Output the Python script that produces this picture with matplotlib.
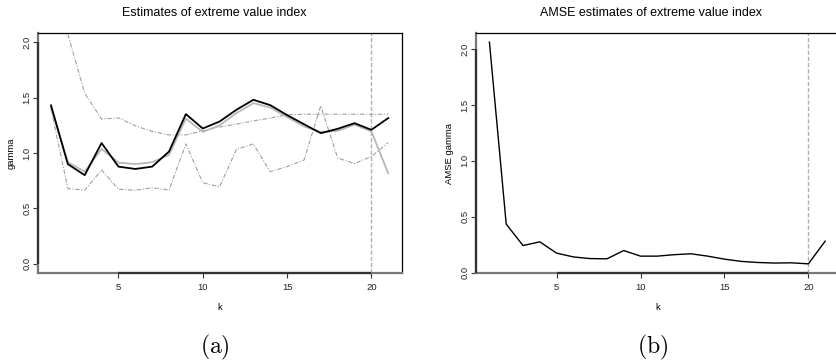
import numpy as np
import matplotlib
matplotlib.use("Agg")
import matplotlib.pyplot as plt

plt.rcParams['font.family'] = ['Liberation Sans', 'DejaVu Sans']
plt.rcParams['mathtext.fontset'] = 'cm'

# ---- data ----
k = np.arange(1, 22)
gamma_est = [1.43, 0.90, 0.80, 1.09, 0.877, 0.856, 0.877, 1.013, 1.351, 1.221, 1.284,
             1.39, 1.48, 1.432, 1.342, 1.26, 1.179, 1.218, 1.269, 1.209, 1.315]
gamma_est2 = [1.41, 0.917, 0.832, 1.037, 0.913, 0.90, 0.917, 0.983, 1.31, 1.19, 1.25,
              1.36, 1.45, 1.41, 1.325, 1.24, 1.19, 1.20, 1.255, 1.195, 0.817]
gamma_upper = [np.nan, 2.07, 1.54, 1.306, 1.317, 1.245, 1.195, 1.163, 1.163, 1.20, 1.235,
               1.26, 1.29, 1.315, 1.345, 1.35, 1.35, 1.35, 1.35, 1.35, 1.35]
gamma_lower = [1.40, 0.68, 0.664, 0.847, 0.673, 0.664, 0.687, 0.666, 1.082, 0.732, 0.696,
               1.034, 1.082, 0.832, 0.877, 0.935, 1.426, 0.955, 0.905, 0.968, 1.094]
amse = [2.064, 0.434, 0.242, 0.275, 0.174, 0.14, 0.125, 0.123, 0.197, 0.147, 0.147,
        0.16, 0.168, 0.147, 0.12, 0.10, 0.09, 0.085, 0.087, 0.078, 0.281]
k_opt = 20
xticks = [5, 10, 15, 20]
yticks = [0.0, 0.5, 1.0, 1.5, 2.0]

W, H = 836, 362
fig = plt.figure(figsize=(W / 100, H / 100), dpi=100)

def fx(px):
    return px / W

def fy(py):
    return 1 - py / H

top_px, bot_px = 33.3, 272.7
axL = fig.add_axes([fx(37.5), fy(bot_px), fx(401.7 - 37.5), (bot_px - top_px) / H])
axR = fig.add_axes([fx(476.0), fy(bot_px), fx(838.6 - 476.0), (bot_px - top_px) / H])

def r_range(lo, hi):
    d = hi - lo
    return lo - 0.04 * d, hi + 0.04 * d

def style(ax, ylim, ylabel):
    ax.set_xlim(*r_range(1, 21))
    ax.set_ylim(*ylim)
    ax.set_xticks(xticks)
    ax.set_yticks(yticks)
    ax.set_yticklabels([f"{v:.1f}" for v in yticks], rotation=90, va='center')
    ax.tick_params(axis='both', direction='out', length=3.5, width=0.8,
                   labelsize=6.8, color='#333333', labelcolor='#222222')
    ax.tick_params(axis='x', pad=4)
    ax.tick_params(axis='y', pad=1)
    for s in ['top', 'right']:
        ax.spines[s].set_color('black')
        ax.spines[s].set_linewidth(0.9)
    for s in ['left', 'bottom']:
        ax.spines[s].set_color('#777777')
        ax.spines[s].set_linewidth(1.6)
    # R-style axis segments between first and last tick
    ax.plot([xticks[0], xticks[-1]], [ylim[0], ylim[0]], color='#333333', lw=1.6,
            clip_on=False, solid_capstyle='butt', zorder=5)
    ax.plot([ax.get_xlim()[0]] * 2, [yticks[0], yticks[-1]], color='#333333', lw=1.6,
            clip_on=False, solid_capstyle='butt', zorder=5)
    ax.set_xlabel('k', fontsize=6.8, labelpad=8)
    ax.set_ylabel(ylabel, fontsize=6.8, labelpad=5)

# ---- left panel ----
ylimL = r_range(0, 2)
axL.axvline(k_opt, color='#b0b0b0', lw=1.0, dashes=(3, 1.5), zorder=1)
axL.plot(k, gamma_upper, color='#a0a0a0', lw=0.8, dashes=(4, 1.5, 1, 1.5), zorder=2)
axL.plot(k, gamma_lower, color='#a0a0a0', lw=0.8, dashes=(4, 1.5, 1, 1.5), zorder=2)
axL.plot(k, gamma_est2, color='#b8b8b8', lw=1.3, zorder=3)
axL.plot(k, gamma_est, color='black', lw=1.3, zorder=4)
style(axL, ylimL, 'gamma')

# ---- right panel ----
ylimR = r_range(min(amse), max(amse))
axR.axvline(k_opt, color='#b0b0b0', lw=1.0, dashes=(3, 1.5), zorder=1)
axR.plot(k, amse, color='black', lw=1.0, zorder=4)
style(axR, ylimR, 'AMSE gamma')

fig.text(fx(214), fy(12.7), 'Estimates of extreme value index', ha='center', va='center',
         fontsize=9.0)
fig.text(fx(651), fy(12.7), 'AMSE estimates of extreme value index', ha='center', va='center',
         fontsize=9.0)
fig.text(fx(215), fy(347), r'$\mathrm{(a)}$', ha='center', va='center', fontsize=17)
fig.text(fx(653), fy(347), r'$\mathrm{(b)}$', ha='center', va='center', fontsize=17)

fig.savefig('out.png', dpi=100)
